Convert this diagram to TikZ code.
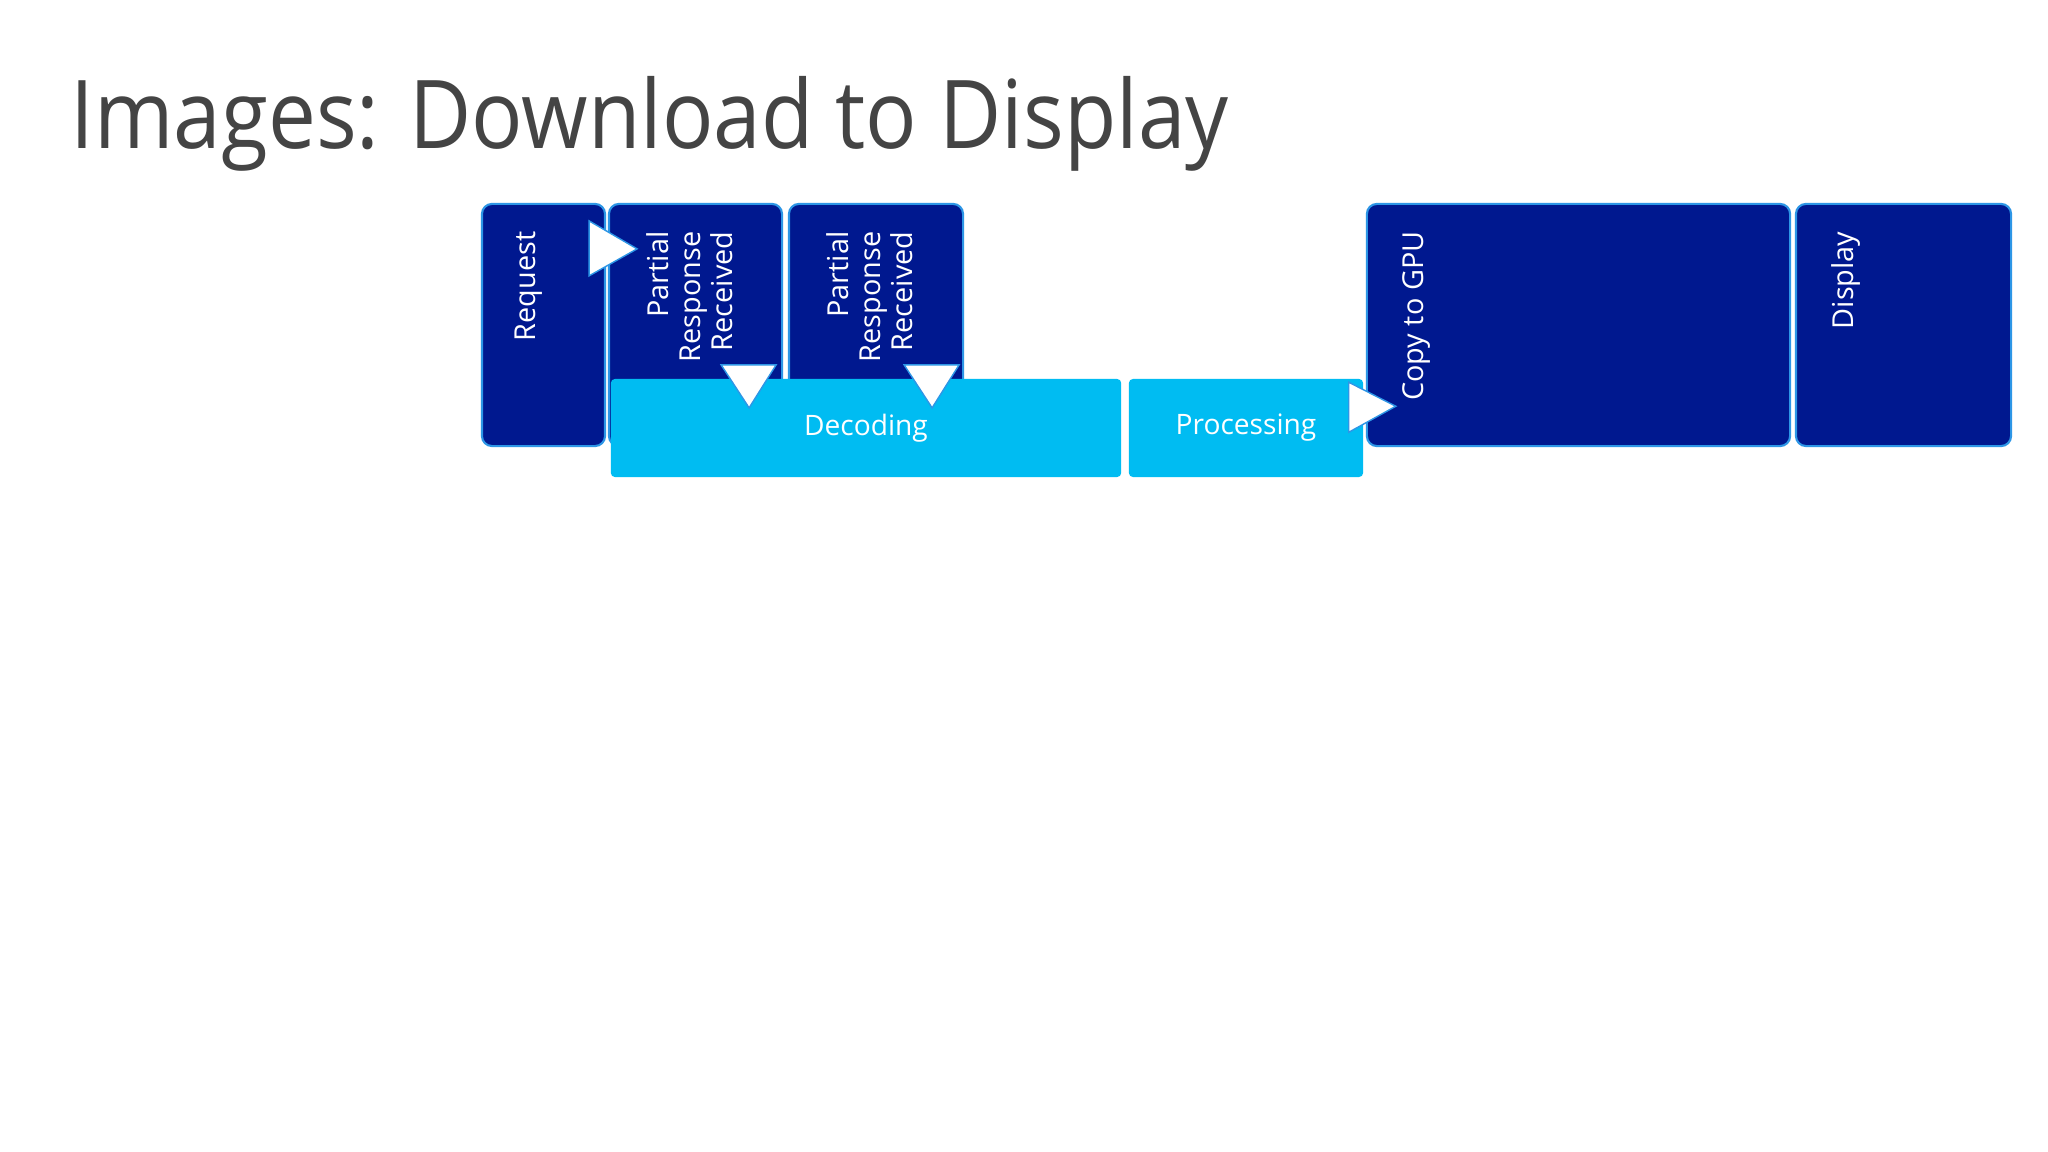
\documentclass[tikz,border=0pt]{standalone}
\usepackage{fontspec}
\setmainfont{Open Sans}
\usetikzlibrary{calc}

\definecolor{navy}{RGB}{0,24,143}
\definecolor{skyblue}{RGB}{0,188,242}
\definecolor{edgeblue}{RGB}{45,150,230}
\definecolor{titlegray}{RGB}{68,68,68}

\tikzset{
  darkbox/.style={draw=edgeblue, line width=0.6pt, fill=navy, rounded corners=0.1cm,
    minimum height=2.42cm, inner sep=0pt},
  lightbox/.style={fill=skyblue, rounded corners=0.04cm, minimum height=0.98cm,
    inner sep=0pt, text=white, font=\fontsize{8}{9.6}\selectfont},
  vlabel/.style={rotate=90, anchor=east, align=right, inner sep=0pt, text=white,
    font=\fontsize{8.2}{9.1}\selectfont},
  tri/.style={fill=white, draw=edgeblue, line width=0.4pt, line join=miter}
}

\begin{document}
\begin{tikzpicture}[x=0.01cm, y=-0.01cm]
  \useasboundingbox[fill=white] (0,0) rectangle (2048,1152);
  \node[anchor=base west, inner sep=0pt, text=titlegray, xscale=0.9,
    font=\fontsize{27}{33}\selectfont] (title) at (70,149) {Images: Download to Display};

  % download stages
  \node[darkbox, minimum width=1.23cm] (req) at (543.5,325) {};
  \node[darkbox, minimum width=1.73cm] (part1) at (695.5,325) {};
  \node[darkbox, minimum width=1.74cm] (part2) at (876,325) {};
  \node[darkbox, minimum width=4.23cm] (gpu) at (1578.5,325) {};
  \node[darkbox, minimum width=2.15cm] (disp) at (1903.5,325) {};

  % cpu work
  \node[lightbox, minimum width=5.10cm] (dec) at (866,428) {Decoding};
  \node[lightbox, minimum width=2.34cm] (proc) at (1246,428) {Processing};

  \node[vlabel] (reqtext) at ($(req.north west)+(48,28)$) {Request};
  \node[vlabel] (part1text) at ($(part1.north west)+(81.5,28)$) {Partial\\Response\\Received};
  \node[vlabel] (part2text) at ($(part2.north west)+(82,28)$) {Partial\\Response\\Received};
  \node[vlabel] (gputext) at ($(gpu.north west)+(51,28)$) {Copy to GPU};
  \node[vlabel] (disptext) at ($(disp.north west)+(51,28)$) {Display};

  % hand-offs
  \draw[tri] ($(req.north east)+(-17,18)$) -- ++(0,55) -- ++(48,-27) -- cycle;
  \draw[tri] ($(part1.north east)+(-62,162)$) -- ++(55,0) -- ++(-27,43) -- cycle;
  \draw[tri] ($(part2.north east)+(-60,162)$) -- ++(55,0) -- ++(-27,43) -- cycle;
  \draw[tri] ($(proc.north east)+(-15,4)$) -- ++(0,50) -- ++(47,-26) -- cycle;
\end{tikzpicture}
\end{document}
